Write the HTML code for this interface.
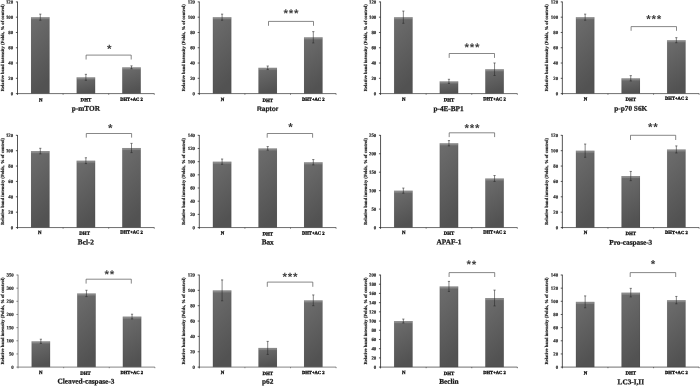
<!DOCTYPE html>
<html lang="en"><head><meta charset="utf-8"><title>Figure</title>
<style>html,body{margin:0;padding:0;background:#fff;}body{width:700px;height:386px;overflow:hidden;}svg{display:block;}text{font-family:"Liberation Serif","DejaVu Serif",serif;font-weight:bold;fill:#1a1a1a;stroke:#1a1a1a;stroke-width:0.22px;text-rendering:geometricPrecision;}.tk{font-size:4.85px;text-anchor:end;stroke-width:0.15px;}.ct{text-anchor:middle;stroke-width:0.32px;fill:#111;stroke:#111;}.tt{font-size:7.25px;text-anchor:middle;stroke-width:0.26px;}.sf{font-family:"Liberation Sans","DejaVu Sans",sans-serif;font-size:6.7px;stroke-width:0.2px;}.yl{font-size:4.6px;text-anchor:middle;stroke-width:0.16px;}.st{font-family:"Liberation Sans","DejaVu Sans",sans-serif;font-size:11.5px;letter-spacing:0.8px;text-anchor:middle;stroke:none;fill:#3c3c3c;}.ax{stroke-width:0.8;fill:none;}.eb{stroke:#2a2a2a;stroke-width:0.58;fill:none;}.br{stroke:#555;stroke-width:0.7;fill:none;stroke-linejoin:round;}</style></head><body>
<svg width="700" height="386" viewBox="0 0 700 386">
<defs><linearGradient id="g" x1="0" y1="0" x2="0.25" y2="1"><stop offset="0" stop-color="#6e6e6e"/><stop offset="1" stop-color="#525252"/></linearGradient><linearGradient id="h" x1="0" y1="0" x2="0" y2="1"><stop offset="0" stop-color="#fff" stop-opacity="0.1"/><stop offset="1" stop-color="#fff" stop-opacity="0"/></linearGradient></defs>
<rect width="700" height="386" fill="#fff"/>
<g>
<rect x="31.05" y="17.18" width="18.5" height="76.42" fill="url(#g)"/>
<rect x="31.05" y="17.18" width="18.5" height="3.00" fill="url(#h)"/>
<rect x="31.05" y="17.18" width="18.5" height="2.00" fill="#fff" fill-opacity="0.15"/>
<path d="M31.25 17.18V93.60M49.35 17.18V93.60" stroke="#000" stroke-opacity="0.16" stroke-width="0.4" fill="none"/>
<path class="eb" d="M40.30 14.13V20.24M39.20 14.13H41.40M39.20 20.24H41.40"/>
<rect x="76.65" y="77.32" width="18.5" height="16.28" fill="url(#g)"/>
<rect x="76.65" y="77.32" width="18.5" height="3.00" fill="url(#h)"/>
<rect x="76.65" y="77.32" width="18.5" height="2.00" fill="#fff" fill-opacity="0.15"/>
<path d="M76.85 77.32V93.60M94.95 77.32V93.60" stroke="#000" stroke-opacity="0.16" stroke-width="0.4" fill="none"/>
<path class="eb" d="M85.90 74.34V80.30M84.80 74.34H87.00M84.80 80.30H87.00"/>
<rect x="122.25" y="67.31" width="18.5" height="26.29" fill="url(#g)"/>
<rect x="122.25" y="67.31" width="18.5" height="3.00" fill="url(#h)"/>
<rect x="122.25" y="67.31" width="18.5" height="2.00" fill="#fff" fill-opacity="0.15"/>
<path d="M122.45 67.31V93.60M140.55 67.31V93.60" stroke="#000" stroke-opacity="0.16" stroke-width="0.4" fill="none"/>
<path class="eb" d="M131.50 65.86V68.76M130.40 65.86H132.60M130.40 68.76H132.60"/>
<path class="ax" stroke="#4a4a4a" d="M17.10 93.60H154.30M63.10 93.60V94.70M108.70 93.60V94.70M154.30 93.60V94.70"/>
<path class="ax" stroke="#2b2b2b" d="M17.50 1.60V94.90M15.90 93.60H17.50M15.90 78.32H17.50M15.90 63.03H17.50M15.90 47.75H17.50M15.90 32.47H17.50M15.90 17.18H17.50M15.90 1.90H17.50"/>
<text class="tk" transform="translate(13.20 95.20) rotate(0.4)">0</text>
<text class="tk" transform="translate(13.20 79.92) rotate(0.4)">20</text>
<text class="tk" transform="translate(13.20 64.63) rotate(0.4)">40</text>
<text class="tk" transform="translate(13.20 49.35) rotate(0.4)">60</text>
<text class="tk" transform="translate(13.20 34.07) rotate(0.4)">80</text>
<text class="tk" transform="translate(13.20 18.78) rotate(0.4)">100</text>
<text class="tk" transform="translate(13.20 3.50) rotate(0.4)">120</text>
<text class="ct" font-size="4.9" transform="translate(40.70 101.40) rotate(0.3)">N</text>
<text class="ct" font-size="4.9" transform="translate(85.90 101.30) rotate(0.3)">DHT</text>
<text class="ct" font-size="4.6" transform="translate(131.50 100.75) rotate(0.3)">DHT+AC 2</text>
<text class="tt" transform="translate(85.90 110.75) rotate(0.25)">p-mTOR</text>
<text class="yl" transform="translate(3.60 47.75) rotate(-90)">Relative band intensity (Folds, % of control)</text>
<path class="br" d="M86.10 59.50V55.10H131.20V59.50"/>
<text class="st" transform="translate(109.60 52.80) rotate(0.3)">*</text>
</g>
<g>
<rect x="212.85" y="17.18" width="18.5" height="76.42" fill="url(#g)"/>
<rect x="212.85" y="17.18" width="18.5" height="3.00" fill="url(#h)"/>
<rect x="212.85" y="17.18" width="18.5" height="2.00" fill="#fff" fill-opacity="0.15"/>
<path d="M213.05 17.18V93.60M231.15 17.18V93.60" stroke="#000" stroke-opacity="0.16" stroke-width="0.4" fill="none"/>
<path class="eb" d="M222.10 14.13V20.24M221.00 14.13H223.20M221.00 20.24H223.20"/>
<rect x="258.45" y="67.77" width="18.5" height="25.83" fill="url(#g)"/>
<rect x="258.45" y="67.77" width="18.5" height="3.00" fill="url(#h)"/>
<rect x="258.45" y="67.77" width="18.5" height="2.00" fill="#fff" fill-opacity="0.15"/>
<path d="M258.65 67.77V93.60M276.75 67.77V93.60" stroke="#000" stroke-opacity="0.16" stroke-width="0.4" fill="none"/>
<path class="eb" d="M267.70 66.01V69.53M266.60 66.01H268.80M266.60 69.53H268.80"/>
<rect x="304.05" y="37.28" width="18.5" height="56.32" fill="url(#g)"/>
<rect x="304.05" y="37.28" width="18.5" height="3.00" fill="url(#h)"/>
<rect x="304.05" y="37.28" width="18.5" height="2.00" fill="#fff" fill-opacity="0.15"/>
<path d="M304.25 37.28V93.60M322.35 37.28V93.60" stroke="#000" stroke-opacity="0.16" stroke-width="0.4" fill="none"/>
<path class="eb" d="M313.30 31.63V42.94M312.20 31.63H314.40M312.20 42.94H314.40"/>
<path class="ax" stroke="#4a4a4a" d="M198.90 93.60H336.10M244.90 93.60V94.70M290.50 93.60V94.70M336.10 93.60V94.70"/>
<path class="ax" stroke="#2b2b2b" d="M199.30 1.60V94.90M197.70 93.60H199.30M197.70 78.32H199.30M197.70 63.03H199.30M197.70 47.75H199.30M197.70 32.47H199.30M197.70 17.18H199.30M197.70 1.90H199.30"/>
<text class="tk" transform="translate(195.00 95.20) rotate(0.4)">0</text>
<text class="tk" transform="translate(195.00 79.92) rotate(0.4)">20</text>
<text class="tk" transform="translate(195.00 64.63) rotate(0.4)">40</text>
<text class="tk" transform="translate(195.00 49.35) rotate(0.4)">60</text>
<text class="tk" transform="translate(195.00 34.07) rotate(0.4)">80</text>
<text class="tk" transform="translate(195.00 18.78) rotate(0.4)">100</text>
<text class="tk" transform="translate(195.00 3.50) rotate(0.4)">120</text>
<text class="ct" font-size="4.9" transform="translate(222.50 101.00) rotate(0.3)">N</text>
<text class="ct" font-size="4.9" transform="translate(267.70 101.90) rotate(0.3)">DHT</text>
<text class="ct" font-size="4.6" transform="translate(313.30 100.75) rotate(0.3)">DHT+AC 2</text>
<text class="tt sf" transform="translate(267.70 111.00) rotate(0.25)">Raptor</text>
<text class="yl" transform="translate(185.40 47.75) rotate(-90)">Relative band intensity (Folds, % of control)</text>
<path class="br" d="M268.50 25.80V21.40H313.50V25.80"/>
<text class="st" transform="translate(291.30 17.20) rotate(0.3)">***</text>
</g>
<g>
<rect x="394.10" y="17.18" width="18.5" height="76.42" fill="url(#g)"/>
<rect x="394.10" y="17.18" width="18.5" height="3.00" fill="url(#h)"/>
<rect x="394.10" y="17.18" width="18.5" height="2.00" fill="#fff" fill-opacity="0.15"/>
<path d="M394.30 17.18V93.60M412.40 17.18V93.60" stroke="#000" stroke-opacity="0.16" stroke-width="0.4" fill="none"/>
<path class="eb" d="M403.35 11.07V23.30M402.25 11.07H404.45M402.25 23.30H404.45"/>
<rect x="439.70" y="81.37" width="18.5" height="12.23" fill="url(#g)"/>
<rect x="439.70" y="81.37" width="18.5" height="3.00" fill="url(#h)"/>
<rect x="439.70" y="81.37" width="18.5" height="2.00" fill="#fff" fill-opacity="0.15"/>
<path d="M439.90 81.37V93.60M458.00 81.37V93.60" stroke="#000" stroke-opacity="0.16" stroke-width="0.4" fill="none"/>
<path class="eb" d="M448.95 79.31V83.44M447.85 79.31H450.05M447.85 83.44H450.05"/>
<rect x="485.30" y="69.22" width="18.5" height="24.38" fill="url(#g)"/>
<rect x="485.30" y="69.22" width="18.5" height="3.00" fill="url(#h)"/>
<rect x="485.30" y="69.22" width="18.5" height="2.00" fill="#fff" fill-opacity="0.15"/>
<path d="M485.50 69.22V93.60M503.60 69.22V93.60" stroke="#000" stroke-opacity="0.16" stroke-width="0.4" fill="none"/>
<path class="eb" d="M494.55 62.96V75.49M493.45 62.96H495.65M493.45 75.49H495.65"/>
<path class="ax" stroke="#4a4a4a" d="M380.15 93.60H517.35M426.15 93.60V94.70M471.75 93.60V94.70M517.35 93.60V94.70"/>
<path class="ax" stroke="#2b2b2b" d="M380.55 1.60V94.90M378.95 93.60H380.55M378.95 78.32H380.55M378.95 63.03H380.55M378.95 47.75H380.55M378.95 32.47H380.55M378.95 17.18H380.55M378.95 1.90H380.55"/>
<text class="tk" transform="translate(376.25 95.20) rotate(0.4)">0</text>
<text class="tk" transform="translate(376.25 79.92) rotate(0.4)">20</text>
<text class="tk" transform="translate(376.25 64.63) rotate(0.4)">40</text>
<text class="tk" transform="translate(376.25 49.35) rotate(0.4)">60</text>
<text class="tk" transform="translate(376.25 34.07) rotate(0.4)">80</text>
<text class="tk" transform="translate(376.25 18.78) rotate(0.4)">100</text>
<text class="tk" transform="translate(376.25 3.50) rotate(0.4)">120</text>
<text class="ct" font-size="4.9" transform="translate(403.75 100.80) rotate(0.3)">N</text>
<text class="ct" font-size="4.9" transform="translate(448.95 101.40) rotate(0.3)">DHT</text>
<text class="ct" font-size="4.6" transform="translate(494.55 100.40) rotate(0.3)">DHT+AC 2</text>
<text class="tt" transform="translate(448.55 111.00) rotate(0.25)">p-4E-BP1</text>
<text class="yl" transform="translate(366.65 47.75) rotate(-90)">Relative band intensity (Folds, % of control)</text>
<path class="br" d="M449.20 57.90V53.50H494.50V57.90"/>
<text class="st" transform="translate(472.30 51.20) rotate(0.3)">***</text>
</g>
<g>
<rect x="575.90" y="17.18" width="18.5" height="76.42" fill="url(#g)"/>
<rect x="575.90" y="17.18" width="18.5" height="3.00" fill="url(#h)"/>
<rect x="575.90" y="17.18" width="18.5" height="2.00" fill="#fff" fill-opacity="0.15"/>
<path d="M576.10 17.18V93.60M594.20 17.18V93.60" stroke="#000" stroke-opacity="0.16" stroke-width="0.4" fill="none"/>
<path class="eb" d="M585.15 14.13V20.24M584.05 14.13H586.25M584.05 20.24H586.25"/>
<rect x="621.50" y="78.32" width="18.5" height="15.28" fill="url(#g)"/>
<rect x="621.50" y="78.32" width="18.5" height="3.00" fill="url(#h)"/>
<rect x="621.50" y="78.32" width="18.5" height="2.00" fill="#fff" fill-opacity="0.15"/>
<path d="M621.70 78.32V93.60M639.80 78.32V93.60" stroke="#000" stroke-opacity="0.16" stroke-width="0.4" fill="none"/>
<path class="eb" d="M630.75 75.64V80.99M629.65 75.64H631.85M629.65 80.99H631.85"/>
<rect x="667.10" y="40.18" width="18.5" height="53.42" fill="url(#g)"/>
<rect x="667.10" y="40.18" width="18.5" height="3.00" fill="url(#h)"/>
<rect x="667.10" y="40.18" width="18.5" height="2.00" fill="#fff" fill-opacity="0.15"/>
<path d="M667.30 40.18V93.60M685.40 40.18V93.60" stroke="#000" stroke-opacity="0.16" stroke-width="0.4" fill="none"/>
<path class="eb" d="M676.35 37.66V42.71M675.25 37.66H677.45M675.25 42.71H677.45"/>
<path class="ax" stroke="#4a4a4a" d="M561.95 93.60H699.15M607.95 93.60V94.70M653.55 93.60V94.70M699.15 93.60V94.70"/>
<path class="ax" stroke="#2b2b2b" d="M562.35 1.60V94.90M560.75 93.60H562.35M560.75 78.32H562.35M560.75 63.03H562.35M560.75 47.75H562.35M560.75 32.47H562.35M560.75 17.18H562.35M560.75 1.90H562.35"/>
<text class="tk" transform="translate(558.05 95.20) rotate(0.4)">0</text>
<text class="tk" transform="translate(558.05 79.92) rotate(0.4)">20</text>
<text class="tk" transform="translate(558.05 64.63) rotate(0.4)">40</text>
<text class="tk" transform="translate(558.05 49.35) rotate(0.4)">60</text>
<text class="tk" transform="translate(558.05 34.07) rotate(0.4)">80</text>
<text class="tk" transform="translate(558.05 18.78) rotate(0.4)">100</text>
<text class="tk" transform="translate(558.05 3.50) rotate(0.4)">120</text>
<text class="ct" font-size="4.9" transform="translate(585.55 100.60) rotate(0.3)">N</text>
<text class="ct" font-size="4.9" transform="translate(630.75 100.90) rotate(0.3)">DHT</text>
<text class="ct" font-size="4.6" transform="translate(676.35 99.80) rotate(0.3)">DHT+AC 2</text>
<text class="tt" transform="translate(630.75 110.80) rotate(0.25)">p-p70 S6K</text>
<text class="yl" transform="translate(548.45 47.75) rotate(-90)">Relative band intensity (Folds, % of control)</text>
<path class="br" d="M631.10 30.80V26.60H676.50V30.80"/>
<text class="st" transform="translate(654.10 23.10) rotate(0.3)">***</text>
</g>
<g>
<rect x="31.05" y="151.06" width="18.5" height="76.49" fill="url(#g)"/>
<rect x="31.05" y="151.06" width="18.5" height="3.00" fill="url(#h)"/>
<rect x="31.05" y="151.06" width="18.5" height="2.00" fill="#fff" fill-opacity="0.15"/>
<path d="M31.25 151.06V227.55M49.35 151.06V227.55" stroke="#000" stroke-opacity="0.16" stroke-width="0.4" fill="none"/>
<path class="eb" d="M40.30 148.29V153.83M39.20 148.29H41.40M39.20 153.83H41.40"/>
<rect x="76.65" y="160.67" width="18.5" height="66.88" fill="url(#g)"/>
<rect x="76.65" y="160.67" width="18.5" height="3.00" fill="url(#h)"/>
<rect x="76.65" y="160.67" width="18.5" height="2.00" fill="#fff" fill-opacity="0.15"/>
<path d="M76.85 160.67V227.55M94.95 160.67V227.55" stroke="#000" stroke-opacity="0.16" stroke-width="0.4" fill="none"/>
<path class="eb" d="M85.90 157.75V163.59M84.80 157.75H87.00M84.80 163.59H87.00"/>
<rect x="122.25" y="147.98" width="18.5" height="79.57" fill="url(#g)"/>
<rect x="122.25" y="147.98" width="18.5" height="3.00" fill="url(#h)"/>
<rect x="122.25" y="147.98" width="18.5" height="2.00" fill="#fff" fill-opacity="0.15"/>
<path d="M122.45 147.98V227.55M140.55 147.98V227.55" stroke="#000" stroke-opacity="0.16" stroke-width="0.4" fill="none"/>
<path class="eb" d="M131.50 143.37V152.60M130.40 143.37H132.60M130.40 152.60H132.60"/>
<path class="ax" stroke="#4a4a4a" d="M17.10 227.55H154.30M63.10 227.55V228.65M108.70 227.55V228.65M154.30 227.55V228.65"/>
<path class="ax" stroke="#2b2b2b" d="M17.50 135.00V228.85M15.90 227.55H17.50M15.90 212.18H17.50M15.90 196.80H17.50M15.90 181.43H17.50M15.90 166.05H17.50M15.90 150.68H17.50M15.90 135.30H17.50"/>
<text class="tk" transform="translate(13.20 229.15) rotate(0.4)">0</text>
<text class="tk" transform="translate(13.20 213.78) rotate(0.4)">20</text>
<text class="tk" transform="translate(13.20 198.40) rotate(0.4)">40</text>
<text class="tk" transform="translate(13.20 183.03) rotate(0.4)">60</text>
<text class="tk" transform="translate(13.20 167.65) rotate(0.4)">80</text>
<text class="tk" transform="translate(13.20 152.28) rotate(0.4)">100</text>
<text class="tk" transform="translate(13.20 136.90) rotate(0.4)">120</text>
<text class="ct" font-size="4.9" transform="translate(39.70 234.00) rotate(0.3)">N</text>
<text class="ct" font-size="4.9" transform="translate(84.60 234.75) rotate(0.3)">DHT</text>
<text class="ct" font-size="4.6" transform="translate(131.50 233.60) rotate(0.3)">DHT+AC 2</text>
<text class="tt" transform="translate(85.90 244.40) rotate(0.25)">Bcl-2</text>
<text class="yl" transform="translate(3.60 181.43) rotate(-90)">Relative band intensity (Folds, % of control)</text>
<path class="br" d="M86.30 137.60V133.50H131.60V137.60"/>
<text class="st" transform="translate(110.60 132.10) rotate(0.3)">*</text>
</g>
<g>
<rect x="212.85" y="161.66" width="18.5" height="65.89" fill="url(#g)"/>
<rect x="212.85" y="161.66" width="18.5" height="3.00" fill="url(#h)"/>
<rect x="212.85" y="161.66" width="18.5" height="2.00" fill="#fff" fill-opacity="0.15"/>
<path d="M213.05 161.66V227.55M231.15 161.66V227.55" stroke="#000" stroke-opacity="0.16" stroke-width="0.4" fill="none"/>
<path class="eb" d="M222.10 159.02V164.29M221.00 159.02H223.20M221.00 164.29H223.20"/>
<rect x="258.45" y="148.41" width="18.5" height="79.14" fill="url(#g)"/>
<rect x="258.45" y="148.41" width="18.5" height="3.00" fill="url(#h)"/>
<rect x="258.45" y="148.41" width="18.5" height="2.00" fill="#fff" fill-opacity="0.15"/>
<path d="M258.65 148.41V227.55M276.75 148.41V227.55" stroke="#000" stroke-opacity="0.16" stroke-width="0.4" fill="none"/>
<path class="eb" d="M267.70 146.57V150.26M266.60 146.57H268.80M266.60 150.26H268.80"/>
<rect x="304.05" y="162.25" width="18.5" height="65.30" fill="url(#g)"/>
<rect x="304.05" y="162.25" width="18.5" height="3.00" fill="url(#h)"/>
<rect x="304.05" y="162.25" width="18.5" height="2.00" fill="#fff" fill-opacity="0.15"/>
<path d="M304.25 162.25V227.55M322.35 162.25V227.55" stroke="#000" stroke-opacity="0.16" stroke-width="0.4" fill="none"/>
<path class="eb" d="M313.30 159.55V164.95M312.20 159.55H314.40M312.20 164.95H314.40"/>
<path class="ax" stroke="#4a4a4a" d="M198.90 227.55H336.10M244.90 227.55V228.65M290.50 227.55V228.65M336.10 227.55V228.65"/>
<path class="ax" stroke="#2b2b2b" d="M199.30 135.00V228.85M197.70 227.55H199.30M197.70 214.37H199.30M197.70 201.19H199.30M197.70 188.01H199.30M197.70 174.84H199.30M197.70 161.66H199.30M197.70 148.48H199.30M197.70 135.30H199.30"/>
<text class="tk" transform="translate(195.00 229.15) rotate(0.4)">0</text>
<text class="tk" transform="translate(195.00 215.97) rotate(0.4)">20</text>
<text class="tk" transform="translate(195.00 202.79) rotate(0.4)">40</text>
<text class="tk" transform="translate(195.00 189.61) rotate(0.4)">60</text>
<text class="tk" transform="translate(195.00 176.44) rotate(0.4)">80</text>
<text class="tk" transform="translate(195.00 163.26) rotate(0.4)">100</text>
<text class="tk" transform="translate(195.00 150.08) rotate(0.4)">120</text>
<text class="tk" transform="translate(195.00 136.90) rotate(0.4)">140</text>
<text class="ct" font-size="4.9" transform="translate(222.50 234.60) rotate(0.3)">N</text>
<text class="ct" font-size="4.9" transform="translate(267.70 235.40) rotate(0.3)">DHT</text>
<text class="ct" font-size="4.6" transform="translate(313.30 234.60) rotate(0.3)">DHT+AC 2</text>
<text class="tt" transform="translate(267.70 244.40) rotate(0.25)">Bax</text>
<text class="yl" transform="translate(185.40 181.43) rotate(-90)">Relative band intensity (Folds, % of control)</text>
<path class="br" d="M267.20 137.70V133.50H312.60V137.70"/>
<text class="st" transform="translate(290.80 131.10) rotate(0.3)">*</text>
</g>
<g>
<rect x="394.10" y="190.65" width="18.5" height="36.90" fill="url(#g)"/>
<rect x="394.10" y="190.65" width="18.5" height="3.00" fill="url(#h)"/>
<rect x="394.10" y="190.65" width="18.5" height="2.00" fill="#fff" fill-opacity="0.15"/>
<path d="M394.30 190.65V227.55M412.40 190.65V227.55" stroke="#000" stroke-opacity="0.16" stroke-width="0.4" fill="none"/>
<path class="eb" d="M403.35 188.07V193.23M402.25 188.07H404.45M402.25 193.23H404.45"/>
<rect x="439.70" y="143.23" width="18.5" height="84.32" fill="url(#g)"/>
<rect x="439.70" y="143.23" width="18.5" height="3.00" fill="url(#h)"/>
<rect x="439.70" y="143.23" width="18.5" height="2.00" fill="#fff" fill-opacity="0.15"/>
<path d="M439.90 143.23V227.55M458.00 143.23V227.55" stroke="#000" stroke-opacity="0.16" stroke-width="0.4" fill="none"/>
<path class="eb" d="M448.95 140.58V145.89M447.85 140.58H450.05M447.85 145.89H450.05"/>
<rect x="485.30" y="178.47" width="18.5" height="49.08" fill="url(#g)"/>
<rect x="485.30" y="178.47" width="18.5" height="3.00" fill="url(#h)"/>
<rect x="485.30" y="178.47" width="18.5" height="2.00" fill="#fff" fill-opacity="0.15"/>
<path d="M485.50 178.47V227.55M503.60 178.47V227.55" stroke="#000" stroke-opacity="0.16" stroke-width="0.4" fill="none"/>
<path class="eb" d="M494.55 175.52V181.43M493.45 175.52H495.65M493.45 181.43H495.65"/>
<path class="ax" stroke="#4a4a4a" d="M380.15 227.55H517.35M426.15 227.55V228.65M471.75 227.55V228.65M517.35 227.55V228.65"/>
<path class="ax" stroke="#2b2b2b" d="M380.55 135.00V228.85M378.95 227.55H380.55M378.95 209.10H380.55M378.95 190.65H380.55M378.95 172.20H380.55M378.95 153.75H380.55M378.95 135.30H380.55"/>
<text class="tk" transform="translate(376.25 229.15) rotate(0.4)">0</text>
<text class="tk" transform="translate(376.25 210.70) rotate(0.4)">50</text>
<text class="tk" transform="translate(376.25 192.25) rotate(0.4)">100</text>
<text class="tk" transform="translate(376.25 173.80) rotate(0.4)">150</text>
<text class="tk" transform="translate(376.25 155.35) rotate(0.4)">200</text>
<text class="tk" transform="translate(376.25 136.90) rotate(0.4)">250</text>
<text class="ct" font-size="4.9" transform="translate(403.75 234.00) rotate(0.3)">N</text>
<text class="ct" font-size="4.9" transform="translate(448.95 234.75) rotate(0.3)">DHT</text>
<text class="ct" font-size="4.6" transform="translate(494.55 233.60) rotate(0.3)">DHT+AC 2</text>
<text class="tt" transform="translate(448.95 244.30) rotate(0.25)">APAF-1</text>
<text class="yl" transform="translate(366.65 181.43) rotate(-90)">Relative band intensity (Folds, % of control)</text>
<path class="br" d="M449.20 137.10V132.80H494.60V137.10"/>
<text class="st" transform="translate(472.30 132.10) rotate(0.3)">***</text>
</g>
<g>
<rect x="575.90" y="150.68" width="18.5" height="76.88" fill="url(#g)"/>
<rect x="575.90" y="150.68" width="18.5" height="3.00" fill="url(#h)"/>
<rect x="575.90" y="150.68" width="18.5" height="2.00" fill="#fff" fill-opacity="0.15"/>
<path d="M576.10 150.68V227.55M594.20 150.68V227.55" stroke="#000" stroke-opacity="0.16" stroke-width="0.4" fill="none"/>
<path class="eb" d="M585.15 144.06V157.29M584.05 144.06H586.25M584.05 157.29H586.25"/>
<rect x="621.50" y="176.04" width="18.5" height="51.51" fill="url(#g)"/>
<rect x="621.50" y="176.04" width="18.5" height="3.00" fill="url(#h)"/>
<rect x="621.50" y="176.04" width="18.5" height="2.00" fill="#fff" fill-opacity="0.15"/>
<path d="M621.70 176.04V227.55M639.80 176.04V227.55" stroke="#000" stroke-opacity="0.16" stroke-width="0.4" fill="none"/>
<path class="eb" d="M630.75 171.43V180.66M629.65 171.43H631.85M629.65 180.66H631.85"/>
<rect x="667.10" y="149.44" width="18.5" height="78.11" fill="url(#g)"/>
<rect x="667.10" y="149.44" width="18.5" height="3.00" fill="url(#h)"/>
<rect x="667.10" y="149.44" width="18.5" height="2.00" fill="#fff" fill-opacity="0.15"/>
<path d="M667.30 149.44V227.55M685.40 149.44V227.55" stroke="#000" stroke-opacity="0.16" stroke-width="0.4" fill="none"/>
<path class="eb" d="M676.35 145.91V152.98M675.25 145.91H677.45M675.25 152.98H677.45"/>
<path class="ax" stroke="#4a4a4a" d="M561.95 227.55H699.15M607.95 227.55V228.65M653.55 227.55V228.65M699.15 227.55V228.65"/>
<path class="ax" stroke="#2b2b2b" d="M562.35 135.00V228.85M560.75 227.55H562.35M560.75 212.18H562.35M560.75 196.80H562.35M560.75 181.43H562.35M560.75 166.05H562.35M560.75 150.68H562.35M560.75 135.30H562.35"/>
<text class="tk" transform="translate(558.05 229.15) rotate(0.4)">0</text>
<text class="tk" transform="translate(558.05 213.78) rotate(0.4)">20</text>
<text class="tk" transform="translate(558.05 198.40) rotate(0.4)">40</text>
<text class="tk" transform="translate(558.05 183.03) rotate(0.4)">60</text>
<text class="tk" transform="translate(558.05 167.65) rotate(0.4)">80</text>
<text class="tk" transform="translate(558.05 152.28) rotate(0.4)">100</text>
<text class="tk" transform="translate(558.05 136.90) rotate(0.4)">120</text>
<text class="ct" font-size="4.9" transform="translate(585.55 234.00) rotate(0.3)">N</text>
<text class="ct" font-size="4.9" transform="translate(630.75 235.00) rotate(0.3)">DHT</text>
<text class="ct" font-size="4.6" transform="translate(676.35 233.90) rotate(0.3)">DHT+AC 2</text>
<text class="tt" transform="translate(630.75 244.75) rotate(0.25)">Pro-caspase-3</text>
<text class="yl" transform="translate(548.45 181.43) rotate(-90)">Relative band intensity (Folds, % of control)</text>
<path class="br" d="M630.50 140.00V135.30H675.70V140.00"/>
<text class="st" transform="translate(653.30 131.10) rotate(0.3)">**</text>
</g>
<g>
<rect x="31.60" y="341.31" width="18.5" height="25.79" fill="url(#g)"/>
<rect x="31.60" y="341.31" width="18.5" height="3.00" fill="url(#h)"/>
<rect x="31.60" y="341.31" width="18.5" height="2.00" fill="#fff" fill-opacity="0.15"/>
<path d="M31.80 341.31V367.10M49.90 341.31V367.10" stroke="#000" stroke-opacity="0.16" stroke-width="0.4" fill="none"/>
<path class="eb" d="M40.85 339.21V343.42M39.75 339.21H41.95M39.75 343.42H41.95"/>
<rect x="77.20" y="293.42" width="18.5" height="73.68" fill="url(#g)"/>
<rect x="77.20" y="293.42" width="18.5" height="3.00" fill="url(#h)"/>
<rect x="77.20" y="293.42" width="18.5" height="2.00" fill="#fff" fill-opacity="0.15"/>
<path d="M77.40 293.42V367.10M95.50 293.42V367.10" stroke="#000" stroke-opacity="0.16" stroke-width="0.4" fill="none"/>
<path class="eb" d="M86.45 290.26V296.58M85.35 290.26H87.55M85.35 296.58H87.55"/>
<rect x="122.80" y="316.58" width="18.5" height="50.52" fill="url(#g)"/>
<rect x="122.80" y="316.58" width="18.5" height="3.00" fill="url(#h)"/>
<rect x="122.80" y="316.58" width="18.5" height="2.00" fill="#fff" fill-opacity="0.15"/>
<path d="M123.00 316.58V367.10M141.10 316.58V367.10" stroke="#000" stroke-opacity="0.16" stroke-width="0.4" fill="none"/>
<path class="eb" d="M132.05 314.21V318.94M130.95 314.21H133.15M130.95 318.94H133.15"/>
<path class="ax" stroke="#666" d="M17.65 367.10H154.85M63.65 367.10V368.20M109.25 367.10V368.20M154.85 367.10V368.20"/>
<path class="ax" stroke="#6a6a6a" d="M18.05 274.70V368.40M16.45 367.10H18.05M16.45 353.94H18.05M16.45 340.79H18.05M16.45 327.63H18.05M16.45 314.47H18.05M16.45 301.31H18.05M16.45 288.16H18.05M16.45 275.00H18.05"/>
<text class="tk" transform="translate(13.75 368.70) rotate(0.4)">0</text>
<text class="tk" transform="translate(13.75 355.54) rotate(0.4)">50</text>
<text class="tk" transform="translate(13.75 342.39) rotate(0.4)">100</text>
<text class="tk" transform="translate(13.75 329.23) rotate(0.4)">150</text>
<text class="tk" transform="translate(13.75 316.07) rotate(0.4)">200</text>
<text class="tk" transform="translate(13.75 302.91) rotate(0.4)">250</text>
<text class="tk" transform="translate(13.75 289.76) rotate(0.4)">300</text>
<text class="tk" transform="translate(13.75 276.60) rotate(0.4)">350</text>
<text class="ct" font-size="4.9" transform="translate(40.75 374.00) rotate(0.3)">N</text>
<text class="ct" font-size="4.9" transform="translate(85.55 374.75) rotate(0.3)">DHT</text>
<text class="ct" font-size="4.6" transform="translate(131.75 374.00) rotate(0.3)">DHT+AC 2</text>
<text class="tt" transform="translate(85.95 383.60) rotate(0.25)">Cleaved-caspase-3</text>
<text class="yl" transform="translate(4.15 321.05) rotate(-90)">Relative band intensity (Folds, % of control)</text>
<path class="br" d="M86.10 283.60V279.20H131.30V283.60"/>
<text class="st" transform="translate(109.70 278.30) rotate(0.3)">**</text>
</g>
<g>
<rect x="212.85" y="290.35" width="18.5" height="76.75" fill="url(#g)"/>
<rect x="212.85" y="290.35" width="18.5" height="3.00" fill="url(#h)"/>
<rect x="212.85" y="290.35" width="18.5" height="2.00" fill="#fff" fill-opacity="0.15"/>
<path d="M213.05 290.35V367.10M231.15 290.35V367.10" stroke="#000" stroke-opacity="0.16" stroke-width="0.4" fill="none"/>
<path class="eb" d="M222.10 279.91V300.79M221.00 279.91H223.20M221.00 300.79H223.20"/>
<rect x="258.45" y="347.91" width="18.5" height="19.19" fill="url(#g)"/>
<rect x="258.45" y="347.91" width="18.5" height="3.00" fill="url(#h)"/>
<rect x="258.45" y="347.91" width="18.5" height="2.00" fill="#fff" fill-opacity="0.15"/>
<path d="M258.65 347.91V367.10M276.75 347.91V367.10" stroke="#000" stroke-opacity="0.16" stroke-width="0.4" fill="none"/>
<path class="eb" d="M267.70 341.39V354.44M266.60 341.39H268.80M266.60 354.44H268.80"/>
<rect x="304.05" y="300.33" width="18.5" height="66.77" fill="url(#g)"/>
<rect x="304.05" y="300.33" width="18.5" height="3.00" fill="url(#h)"/>
<rect x="304.05" y="300.33" width="18.5" height="2.00" fill="#fff" fill-opacity="0.15"/>
<path d="M304.25 300.33V367.10M322.35 300.33V367.10" stroke="#000" stroke-opacity="0.16" stroke-width="0.4" fill="none"/>
<path class="eb" d="M313.30 294.95V305.70M312.20 294.95H314.40M312.20 305.70H314.40"/>
<path class="ax" stroke="#666" d="M198.90 367.10H336.10M244.90 367.10V368.20M290.50 367.10V368.20M336.10 367.10V368.20"/>
<path class="ax" stroke="#2b2b2b" d="M199.30 274.70V368.40M197.70 367.10H199.30M197.70 351.75H199.30M197.70 336.40H199.30M197.70 321.05H199.30M197.70 305.70H199.30M197.70 290.35H199.30M197.70 275.00H199.30"/>
<text class="tk" transform="translate(195.00 368.70) rotate(0.4)">0</text>
<text class="tk" transform="translate(195.00 353.35) rotate(0.4)">20</text>
<text class="tk" transform="translate(195.00 338.00) rotate(0.4)">40</text>
<text class="tk" transform="translate(195.00 322.65) rotate(0.4)">60</text>
<text class="tk" transform="translate(195.00 307.30) rotate(0.4)">80</text>
<text class="tk" transform="translate(195.00 291.95) rotate(0.4)">100</text>
<text class="tk" transform="translate(195.00 276.60) rotate(0.4)">120</text>
<text class="ct" font-size="4.9" transform="translate(222.50 374.00) rotate(0.3)">N</text>
<text class="ct" font-size="4.9" transform="translate(267.70 375.00) rotate(0.3)">DHT</text>
<text class="ct" font-size="4.6" transform="translate(313.30 374.00) rotate(0.3)">DHT+AC 2</text>
<text class="tt" transform="translate(267.70 383.80) rotate(0.25)">p62</text>
<text class="yl" transform="translate(185.40 321.05) rotate(-90)">Relative band intensity (Folds, % of control)</text>
<path class="br" d="M267.30 286.80V282.10H312.80V286.80"/>
<text class="st" transform="translate(290.30 280.70) rotate(0.3)">***</text>
</g>
<g>
<rect x="394.10" y="321.05" width="18.5" height="46.05" fill="url(#g)"/>
<rect x="394.10" y="321.05" width="18.5" height="3.00" fill="url(#h)"/>
<rect x="394.10" y="321.05" width="18.5" height="2.00" fill="#fff" fill-opacity="0.15"/>
<path d="M394.30 321.05V367.10M412.40 321.05V367.10" stroke="#000" stroke-opacity="0.16" stroke-width="0.4" fill="none"/>
<path class="eb" d="M403.35 319.07V323.03M402.25 319.07H404.45M402.25 323.03H404.45"/>
<rect x="439.70" y="286.42" width="18.5" height="80.68" fill="url(#g)"/>
<rect x="439.70" y="286.42" width="18.5" height="3.00" fill="url(#h)"/>
<rect x="439.70" y="286.42" width="18.5" height="2.00" fill="#fff" fill-opacity="0.15"/>
<path d="M439.90 286.42V367.10M458.00 286.42V367.10" stroke="#000" stroke-opacity="0.16" stroke-width="0.4" fill="none"/>
<path class="eb" d="M448.95 281.40V291.44M447.85 281.40H450.05M447.85 291.44H450.05"/>
<rect x="485.30" y="298.02" width="18.5" height="69.08" fill="url(#g)"/>
<rect x="485.30" y="298.02" width="18.5" height="3.00" fill="url(#h)"/>
<rect x="485.30" y="298.02" width="18.5" height="2.00" fill="#fff" fill-opacity="0.15"/>
<path d="M485.50 298.02V367.10M503.60 298.02V367.10" stroke="#000" stroke-opacity="0.16" stroke-width="0.4" fill="none"/>
<path class="eb" d="M494.55 290.10V305.95M493.45 290.10H495.65M493.45 305.95H495.65"/>
<path class="ax" stroke="#4a4a4a" d="M380.15 367.10H517.35M426.15 367.10V368.20M471.75 367.10V368.20M517.35 367.10V368.20"/>
<path class="ax" stroke="#2b2b2b" d="M380.55 274.70V368.40M378.95 367.10H380.55M378.95 357.89H380.55M378.95 348.68H380.55M378.95 339.47H380.55M378.95 330.26H380.55M378.95 321.05H380.55M378.95 311.84H380.55M378.95 302.63H380.55M378.95 293.42H380.55M378.95 284.21H380.55M378.95 275.00H380.55"/>
<text class="tk" transform="translate(376.25 368.70) rotate(0.4)">0</text>
<text class="tk" transform="translate(376.25 359.49) rotate(0.4)">20</text>
<text class="tk" transform="translate(376.25 350.28) rotate(0.4)">40</text>
<text class="tk" transform="translate(376.25 341.07) rotate(0.4)">60</text>
<text class="tk" transform="translate(376.25 331.86) rotate(0.4)">80</text>
<text class="tk" transform="translate(376.25 322.65) rotate(0.4)">100</text>
<text class="tk" transform="translate(376.25 313.44) rotate(0.4)">120</text>
<text class="tk" transform="translate(376.25 304.23) rotate(0.4)">140</text>
<text class="tk" transform="translate(376.25 295.02) rotate(0.4)">160</text>
<text class="tk" transform="translate(376.25 285.81) rotate(0.4)">180</text>
<text class="tk" transform="translate(376.25 276.60) rotate(0.4)">200</text>
<text class="ct" font-size="4.9" transform="translate(403.75 374.00) rotate(0.3)">N</text>
<text class="ct" font-size="4.9" transform="translate(448.95 375.00) rotate(0.3)">DHT</text>
<text class="ct" font-size="4.6" transform="translate(494.55 374.00) rotate(0.3)">DHT+AC 2</text>
<text class="tt" transform="translate(448.95 383.80) rotate(0.25)">Beclin</text>
<text class="yl" transform="translate(366.65 321.05) rotate(-90)">Relative band intensity (Folds, % of control)</text>
<path class="br" d="M449.10 277.00V272.60H494.70V277.00"/>
<text class="st" transform="translate(471.70 268.40) rotate(0.3)">**</text>
</g>
<g>
<rect x="575.90" y="301.84" width="18.5" height="65.26" fill="url(#g)"/>
<rect x="575.90" y="301.84" width="18.5" height="3.00" fill="url(#h)"/>
<rect x="575.90" y="301.84" width="18.5" height="2.00" fill="#fff" fill-opacity="0.15"/>
<path d="M576.10 301.84V367.10M594.20 301.84V367.10" stroke="#000" stroke-opacity="0.16" stroke-width="0.4" fill="none"/>
<path class="eb" d="M585.15 295.92V307.76M584.05 295.92H586.25M584.05 307.76H586.25"/>
<rect x="621.50" y="292.63" width="18.5" height="74.47" fill="url(#g)"/>
<rect x="621.50" y="292.63" width="18.5" height="3.00" fill="url(#h)"/>
<rect x="621.50" y="292.63" width="18.5" height="2.00" fill="#fff" fill-opacity="0.15"/>
<path d="M621.70 292.63V367.10M639.80 292.63V367.10" stroke="#000" stroke-opacity="0.16" stroke-width="0.4" fill="none"/>
<path class="eb" d="M630.75 288.35V296.91M629.65 288.35H631.85M629.65 296.91H631.85"/>
<rect x="667.10" y="300.13" width="18.5" height="66.97" fill="url(#g)"/>
<rect x="667.10" y="300.13" width="18.5" height="3.00" fill="url(#h)"/>
<rect x="667.10" y="300.13" width="18.5" height="2.00" fill="#fff" fill-opacity="0.15"/>
<path d="M667.30 300.13V367.10M685.40 300.13V367.10" stroke="#000" stroke-opacity="0.16" stroke-width="0.4" fill="none"/>
<path class="eb" d="M676.35 296.45V303.81M675.25 296.45H677.45M675.25 303.81H677.45"/>
<path class="ax" stroke="#4a4a4a" d="M561.95 367.10H699.15M607.95 367.10V368.20M653.55 367.10V368.20M699.15 367.10V368.20"/>
<path class="ax" stroke="#2b2b2b" d="M562.35 274.70V368.40M560.75 367.10H562.35M560.75 353.94H562.35M560.75 340.79H562.35M560.75 327.63H562.35M560.75 314.47H562.35M560.75 301.31H562.35M560.75 288.16H562.35M560.75 275.00H562.35"/>
<text class="tk" transform="translate(558.05 368.70) rotate(0.4)">0</text>
<text class="tk" transform="translate(558.05 355.54) rotate(0.4)">20</text>
<text class="tk" transform="translate(558.05 342.39) rotate(0.4)">40</text>
<text class="tk" transform="translate(558.05 329.23) rotate(0.4)">60</text>
<text class="tk" transform="translate(558.05 316.07) rotate(0.4)">80</text>
<text class="tk" transform="translate(558.05 302.91) rotate(0.4)">100</text>
<text class="tk" transform="translate(558.05 289.76) rotate(0.4)">120</text>
<text class="tk" transform="translate(558.05 276.60) rotate(0.4)">140</text>
<text class="ct" font-size="4.9" transform="translate(585.55 374.40) rotate(0.3)">N</text>
<text class="ct" font-size="4.9" transform="translate(630.75 374.50) rotate(0.3)">DHT</text>
<text class="ct" font-size="4.6" transform="translate(676.35 374.00) rotate(0.3)">DHT+AC 2</text>
<text class="tt" transform="translate(630.75 384.20) rotate(0.25)">LC3-I,II</text>
<text class="yl" transform="translate(548.45 321.05) rotate(-90)">Relative band intensity (Folds, % of control)</text>
<path class="br" d="M630.20 277.00V272.60H675.70V277.00"/>
<text class="st" transform="translate(653.50 268.10) rotate(0.3)">*</text>
</g>
</svg></body></html>
